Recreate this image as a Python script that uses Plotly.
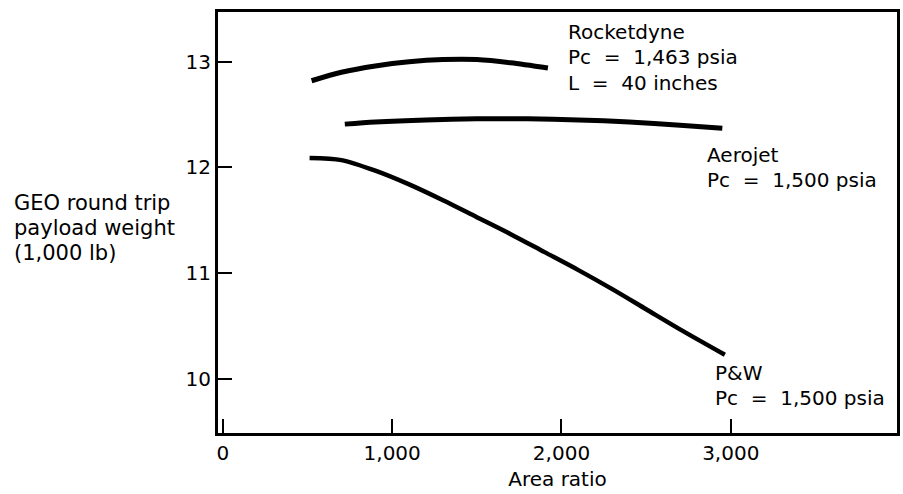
import plotly.graph_objects as go

# Data
rocketdyne_x = [524, 700, 900, 1100, 1300, 1500, 1700, 1920]
rocketdyne_y = [12.82, 12.90, 12.96, 13.00, 13.02, 13.02, 12.99, 12.94]

aerojet_x = [720, 900, 1200, 1500, 1800, 2100, 2400, 2700, 2950]
aerojet_y = [12.41, 12.43, 12.45, 12.46, 12.46, 12.45, 12.43, 12.40, 12.37]

pw_x = [512, 700, 900, 1100, 1300, 1500, 1700, 1900, 2100, 2300, 2500, 2700, 2965]
pw_y = [12.09, 12.07, 11.97, 11.84, 11.69, 11.53, 11.37, 11.20, 11.03, 10.85, 10.66, 10.47, 10.23]

x_ticks = [0, 1000, 2000, 3000]
x_labels = ["0", "1,000", "2,000", "3,000"]
y_ticks = [10, 11, 12, 13]
y_labels = ["10", "11", "12", "13"]

FONT = "DejaVu Sans, sans-serif"
FS = 20
EQ = "\u00a0\u00a0=\u00a0\u00a0"

fig = go.Figure()
for xs, ys, w in [(rocketdyne_x, rocketdyne_y, 5), (aerojet_x, aerojet_y, 5), (pw_x, pw_y, 4.5)]:
    fig.add_trace(go.Scatter(x=xs, y=ys, mode="lines", line=dict(color="black", width=w, shape="spline", smoothing=0.8),
                             showlegend=False, hoverinfo="skip"))

# curve labels, one annotation per line
labels = [
    (2024, 13.28, "Rocketdyne"),
    (2024, 13.04, "Pc" + EQ + "1,463 psia"),
    (2024, 12.80, "L" + EQ + "40 inches"),
    (2847, 12.12, "Aerojet"),
    (2847, 11.886, "Pc" + EQ + "1,500 psia"),
    (2894, 10.06, "P&W"),
    (2894, 9.82, "Pc" + EQ + "1,500 psia"),
]
for x, y, t in labels:
    fig.add_annotation(x=x, y=y, xref="x", yref="y", text=t, showarrow=False,
                       xanchor="left", yanchor="middle", font=dict(size=FS, color="black", family=FONT))

# y-axis title (three lines)
for i, t in enumerate(["GEO round trip", "payload weight", "(1,000 lb)"]):
    fig.add_annotation(x=-0.304, y=0.546 - i * 0.059, xref="paper", yref="paper", text=t, showarrow=False,
                       xanchor="left", yanchor="middle", font=dict(size=FS + 1, color="black", family=FONT))

fig.update_layout(
    width=903, height=494,
    margin=dict(l=218, r=3, t=12, b=61),
    paper_bgcolor="white", plot_bgcolor="white",
    font=dict(family=FONT, size=FS, color="black"),
    xaxis=dict(range=[-29, 3982], tickvals=x_ticks, ticktext=x_labels, ticks="inside", ticklen=14,
               tickwidth=2, tickcolor="black", showline=True, linewidth=3, linecolor="black", mirror=True,
               showgrid=False, zeroline=False,
               title=dict(text="Area ratio", font=dict(size=FS), standoff=8)),
    yaxis=dict(range=[9.49, 13.47], tickvals=y_ticks, ticktext=y_labels, ticks="inside", ticklen=14,
               tickwidth=2, tickcolor="black", showline=True, linewidth=3, linecolor="black", mirror=True,
               showgrid=False, zeroline=False),
)

fig.write_html("out.html")
